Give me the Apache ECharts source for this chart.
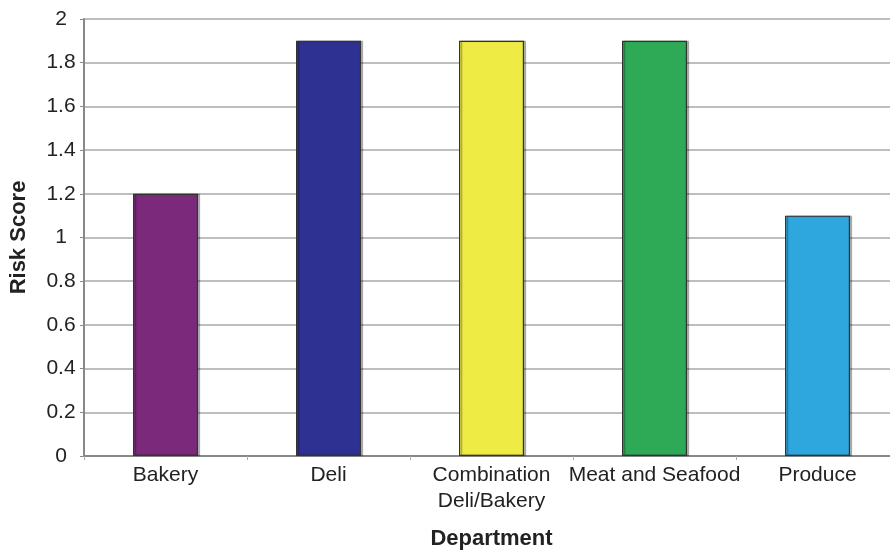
<!DOCTYPE html>
<html>
<head>
<meta charset="utf-8">
<script src="https://cdn.jsdelivr.net/npm/echarts@6/dist/echarts.min.js"></script>
<style>
html,body{margin:0;padding:0;background:#fff;}
#c{width:890px;height:552px;}
</style>
</head>
<body>
<div id="c"></div>
<script>
var categories = ['Bakery', 'Deli', 'Combination\nDeli/Bakery', 'Meat and Seafood', 'Produce'];
var riskScores = [1.2, 1.9, 1.9, 1.9, 1.1];
var barColors = ['#7B2A7B', '#2E3192', '#EEEB45', '#2EAA56', '#2EA7DE'];
var yTicks = { min: 0, max: 2, interval: 0.2 };

var chart = echarts.init(document.getElementById('c'), null, { renderer: 'canvas' });
var font = 'Liberation Sans, Arial, sans-serif';
chart.setOption({
  animation: false,
  backgroundColor: '#fff',
  grid: { left: 84, right: -9, top: 19, bottom: 96, containLabel: false, outerBoundsMode: 'none' },
  xAxis: {
    type: 'category',
    data: categories,
    name: 'Department',
    nameLocation: 'middle',
    nameGap: 72,
    nameTextStyle: { fontFamily: font, fontSize: 22, fontWeight: 'bold', color: '#222' },
    axisLine: { lineStyle: { color: '#888', width: 2 } },
    axisTick: { show: true, alignWithLabel: false, length: 4, lineStyle: { color: '#aaa' } },
    axisLabel: { fontFamily: font, fontSize: 21, color: '#222', margin: 6, lineHeight: 26, interval: 0 }
  },
  yAxis: {
    type: 'value',
    min: yTicks.min, max: yTicks.max, interval: yTicks.interval,
    name: 'Risk Score',
    nameLocation: 'middle',
    nameGap: 54,
    nameRotate: 90,
    nameTextStyle: { fontFamily: font, fontSize: 22, fontWeight: 'bold', color: '#222' },
    axisLine: { show: true, lineStyle: { color: '#888', width: 2 } },
    axisTick: { show: true, length: 4, lineStyle: { color: '#888' } },
    axisLabel: { fontFamily: font, fontSize: 21, color: '#222', margin: 23, align: 'center' },
    splitLine: { show: true, lineStyle: { color: '#a8a8a8', width: 1.5 } }
  },
  series: [{
    type: 'bar',
    data: riskScores.map(function (v, i) { return { value: v, itemStyle: { color: barColors[i] } }; }),
    barWidth: 65,
    itemStyle: {
      borderColor: '#333',
      borderWidth: 1.2,
      shadowColor: 'rgba(0,0,0,0.3)',
      shadowOffsetX: 2,
      shadowOffsetY: 0,
      shadowBlur: 1
    }
  }]
});
</script>
</body>
</html>
